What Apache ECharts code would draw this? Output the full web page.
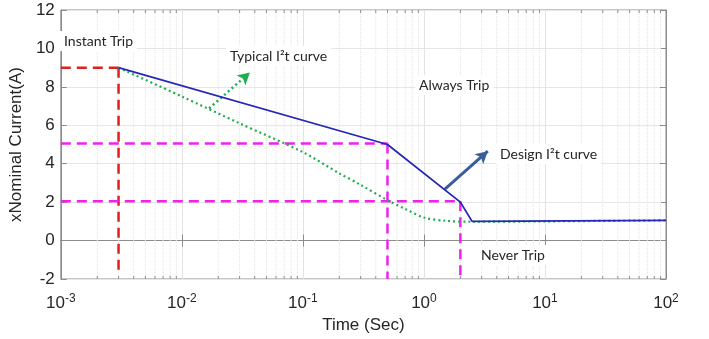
<!DOCTYPE html>
<html>
<head>
<meta charset="utf-8">
<script src="https://cdn.jsdelivr.net/npm/echarts@6/dist/echarts.min.js"></script>
<style>
  html, body { margin: 0; padding: 0; background: #fff; }
  #chart { width: 709px; height: 339px; }
</style>
</head>
<body>
<div id="chart"></div>
<script>
// Design I2t curve (blue solid)
const designT = [0.003, 0.5, 2, 2.5, 100];
const designI = [9, 5, 2, 1, 1.05];

// Typical I2t curve (green dotted)
const typicalT = [0.003, 0.01, 0.03, 0.1, 0.2, 0.3, 0.5, 0.7, 1.0, 1.5, 2.5, 10, 100];
const typicalI = [9, 7.5, 6.1, 4.6, 3.5, 2.9, 2.1, 1.65, 1.2, 1.03, 0.98, 1.0, 1.05];

// Dashed guide lines
const redLines = [
  [[0.001, 9], [0.003, 9]],
  [[0.003, 9], [0.003, -1.6]]
];
const magentaLines = [
  [[0.001, 5.05], [0.5, 5.05]],
  [[0.5, 5.05], [0.5, -2]],
  [[0.001, 2.05], [2, 2.05]],
  [[2, 2.05], [2, -2]]
];

// Annotation arrows [from, to]
const typicalArrow = [[0.0168, 6.88], [0.0365, 8.75]];
const designArrow = [[1.49, 2.68], [3.37, 4.65]];

// Region / curve labels
const labelTexts = ['Instant Trip', 'Typical I\u00B2t curve', 'Always Trip', 'Design I\u00B2t curve', 'Never Trip'];
const labelPos = [[60, 31], [226, 46], [415, 75], [496, 144], [477, 245]];

// Axis settings
const xMin = 0.001, xMax = 100;
const yMin = -2, yMax = 12, yStep = 2;
const decadeExps = [-3, -2, -1, 0, 1];

// Minor log grid values 2..9 x 10^k
const minorValues = [];
decadeExps.forEach(k => {
  for (let m = 2; m <= 9; m++) minorValues.push(m * Math.pow(10, k));
});

const zip = (xs, ys) => xs.map((x, i) => [x, ys[i]]);

const chart = echarts.init(document.getElementById('chart'));

const axisFont = { fontFamily: 'Liberation Sans, Arial, sans-serif', color: '#262626' };
const boxColor = '#8c8c8c';

const guideSeries = (segs, color) => segs.map(seg => ({
  type: 'line',
  data: seg,
  symbol: 'none',
  silent: true,
  z: 3,
  lineStyle: { color: color, width: 2.5, type: [10, 6] }
}));

const arrowSeries = (arr, color, lineType, width) => ({
  type: 'line',
  data: [],
  silent: true,
  markLine: {
    silent: true,
    symbol: ['none', 'arrow'],
    symbolSize: [10, 12],
    label: { show: false },
    lineStyle: { color: color, type: lineType, width: width },
    data: [[{ coord: arr[0] }, { coord: arr[1] }]]
  }
});

const option = {
  animation: false,
  backgroundColor: '#fff',
  grid: { left: 58, right: 43, top: 10, bottom: 60, show: true, borderColor: boxColor, borderWidth: 1 },
  xAxis: [{
    type: 'log',
    logBase: 10,
    min: xMin,
    max: xMax,
    name: 'Time (Sec)',
    nameLocation: 'middle',
    nameGap: 33,
    nameTextStyle: Object.assign({ fontSize: 17 }, axisFont),
    axisLine: { lineStyle: { color: boxColor } },
    axisTick: { inside: true, length: 6, lineStyle: { color: boxColor } },
    axisLabel: {
      margin: 8,
      formatter: v => '{b|10}{s|' + Math.round(Math.log10(v)) + '}',
      rich: {
        b: Object.assign({ fontSize: 17, padding: [8, 0, 0, 0] }, axisFont),
        s: Object.assign({ fontSize: 12, padding: [0, 0, 2, 0] }, axisFont)
      }
    },
    splitLine: { show: true, lineStyle: { color: '#e3e3e3', width: 1 } }
  }, {
    type: 'log',
    logBase: 10,
    min: xMin,
    max: xMax,
    position: 'top',
    axisLine: { lineStyle: { color: boxColor } },
    axisTick: { inside: true, length: 6, lineStyle: { color: boxColor } },
    axisLabel: { show: false },
    splitLine: { show: false }
  }],
  yAxis: [{
    type: 'value',
    min: yMin,
    max: yMax,
    interval: yStep,
    name: 'xNominal Current(A)',
    nameLocation: 'middle',
    nameGap: 30,
    nameTextStyle: Object.assign({ fontSize: 17 }, axisFont),
    axisLine: { show: true, lineStyle: { color: boxColor } },
    axisTick: { show: true, inside: true, length: 6, lineStyle: { color: boxColor } },
    axisLabel: Object.assign({ fontSize: 17, margin: 6 }, axisFont),
    splitLine: { show: true, lineStyle: { color: '#e6e6e6', width: 1 } }
  }, {
    type: 'value',
    min: yMin,
    max: yMax,
    interval: yStep,
    position: 'right',
    axisLine: { show: true, lineStyle: { color: boxColor } },
    axisTick: { show: true, inside: true, length: 6, lineStyle: { color: boxColor } },
    axisLabel: { show: false },
    splitLine: { show: false }
  }],
  series: [
    // minor log grid lines and ticks
    {
      type: 'custom',
      silent: true,
      z: 1,
      data: minorValues.map(v => [v]),
      encode: { x: 0 },
      renderItem: (params, api) => {
        const x = api.coord([api.value(0), yMin])[0];
        const yb = api.coord([api.value(0), yMin])[1];
        const yt = api.coord([api.value(0), yMax])[1];
        return {
          type: 'group',
          children: [
            { type: 'line', shape: { x1: x, y1: yb, x2: x, y2: yt },
              style: { stroke: '#e2e2e2', lineWidth: 1, lineDash: [1, 1] } },
            { type: 'line', shape: { x1: x, y1: yb, x2: x, y2: yb - 3 },
              style: { stroke: boxColor, lineWidth: 1 } },
            { type: 'line', shape: { x1: x, y1: yt, x2: x, y2: yt + 3 },
              style: { stroke: boxColor, lineWidth: 1 } }
          ]
        };
      }
    },
    ...guideSeries(redLines, '#e0201f'),
    ...guideSeries(magentaLines, '#ee22ee'),
    {
      name: 'Typical',
      type: 'line',
      data: zip(typicalT, typicalI),
      symbol: 'none',
      smooth: 0.3,
      z: 4,
      lineStyle: { color: '#1fae4f', width: 2.2, type: [2, 3] }
    },
    {
      name: 'Design',
      type: 'line',
      data: zip(designT, designI),
      symbol: 'none',
      z: 5,
      lineStyle: { color: '#2626b8', width: 1.8 }
    },
    arrowSeries(typicalArrow, '#1fae4f', [2, 3], 2.5),
    arrowSeries(designArrow, '#3a5e9c', 'solid', 3)
  ],
  graphic: labelTexts.map((t, i) => ({
    type: 'text',
    left: labelPos[i][0],
    top: labelPos[i][1],
    z: 10,
    style: {
      text: t,
      font: '14px Lato, sans-serif',
      fill: '#262626',
      backgroundColor: '#fff',
      padding: [3, 4, 3, 4]
    }
  }))
};

chart.setOption(option);
</script>
</body>
</html>
